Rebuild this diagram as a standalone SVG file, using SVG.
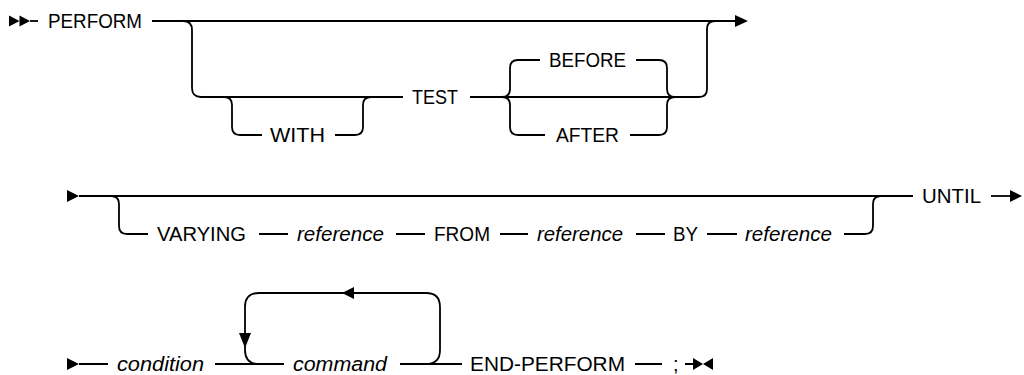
<svg xmlns="http://www.w3.org/2000/svg" width="1024" height="375" viewBox="0 0 1024 375">
<style>
.l{fill:none;stroke:#000;stroke-width:1.8}
.a{fill:#000;stroke:none}
text{font-family:"Liberation Sans","Noto Sans",sans-serif;font-size:20px;fill:#000}
.i{font-style:italic}
</style>
<rect width="1024" height="375" fill="#fff"/>
<g id="connectors">
<!-- row 1 -->
<path class="a" d="M9,15.5 L9,26.5 L19.5,21 Z M19.5,15.5 L19.5,26.5 L30,21 Z"/>
<path class="l" d="M30,21 H38"/>
<path class="l" d="M152,21 H737"/>
<path class="a" d="M735,15 L735,27 L748,21 Z"/>
<path class="l" d="M183,21 Q192,21 192,30 V88 Q192,97 201,97 H403"/>
<path class="l" d="M224,97 Q232,97 232,105 V127 Q232,135 240,135 H262"/>
<path class="l" d="M335,135 H355 Q363,135 363,127 V105 Q363,97 371,97"/>
<path class="l" d="M470,97 H699 Q707,97 707,89 V29 Q707,21 715,21"/>
<path class="l" d="M502,97 Q510,97 510,89 V68 Q510,60 518,60 H540"/>
<path class="l" d="M636,60 H659 Q667,60 667,68 V89 Q667,97 675,97"/>
<path class="l" d="M502,97 Q510,97 510,105 V127 Q510,135 518,135 H545"/>
<path class="l" d="M630,135 H659 Q667,135 667,127 V105 Q667,97 675,97"/>
<!-- row 2 -->
<path class="a" d="M67,190 L67,202 L79,196 Z"/>
<path class="l" d="M79,196 H913"/>
<path class="l" d="M111,196 Q119,196 119,204 V226 Q119,234 127,234 H148"/>
<path class="l" d="M259,234 H288 M396,234 H425 M500,234 H528 M636,234 H665 M707,234 H737"/>
<path class="l" d="M844,234 H865 Q873,234 873,226 V204 Q873,196 881,196"/>
<path class="l" d="M991,196 H1011"/>
<path class="a" d="M1010,190 L1010,202 L1022,196 Z"/>
<!-- row 3 -->
<path class="a" d="M67,358 L67,370 L79,364 Z"/>
<path class="l" d="M79,364 H108 M215,364 H284 M400,364 H462 M635,364 H662 M685,364 H694"/>
<path class="l" d="M259,364 Q245,364 245,350 V307 Q245,293 259,293 H426 Q440,293 440,307 V350 Q440,364 426,364"/>
<path class="a" d="M239,333 L251,333 L245,348 Z"/>
<path class="a" d="M354,287 L354,299 L342,293 Z"/>
<path class="a" d="M693,358 L693,370 L703,364 Z M713,358 L713,370 L703,364 Z"/>
</g>
<g id="n-perform"><text x="48" y="28" textLength="94" lengthAdjust="spacingAndGlyphs">PERFORM</text></g>
<g id="n-with"><text x="270" y="142" textLength="55" lengthAdjust="spacingAndGlyphs">WITH</text></g>
<g id="n-test"><text x="412" y="104" textLength="46" lengthAdjust="spacingAndGlyphs">TEST</text></g>
<g id="n-before"><text x="549" y="67" textLength="77" lengthAdjust="spacingAndGlyphs">BEFORE</text></g>
<g id="n-after"><text x="556" y="142" textLength="63" lengthAdjust="spacingAndGlyphs">AFTER</text></g>
<g id="n-varying"><text x="157" y="241" textLength="89" lengthAdjust="spacingAndGlyphs">VARYING</text></g>
<g id="n-ref1"><text class="i" x="297" y="241" textLength="87" lengthAdjust="spacingAndGlyphs">reference</text></g>
<g id="n-from"><text x="434" y="241" textLength="56" lengthAdjust="spacingAndGlyphs">FROM</text></g>
<g id="n-ref2"><text class="i" x="537" y="241" textLength="86" lengthAdjust="spacingAndGlyphs">reference</text></g>
<g id="n-by"><text x="673" y="241" textLength="25" lengthAdjust="spacingAndGlyphs">BY</text></g>
<g id="n-ref3"><text class="i" x="745" y="241" textLength="87" lengthAdjust="spacingAndGlyphs">reference</text></g>
<g id="n-until"><text x="922" y="203" textLength="59" lengthAdjust="spacingAndGlyphs">UNTIL</text></g>
<g id="n-condition"><text class="i" x="117" y="371" textLength="87" lengthAdjust="spacingAndGlyphs">condition</text></g>
<g id="n-command"><text class="i" x="293" y="371" textLength="94" lengthAdjust="spacingAndGlyphs">command</text></g>
<g id="n-endperform"><text x="470" y="371" textLength="155" lengthAdjust="spacingAndGlyphs">END-PERFORM</text></g>
<g id="n-semicolon"><text x="673" y="371">;</text></g>
</svg>
